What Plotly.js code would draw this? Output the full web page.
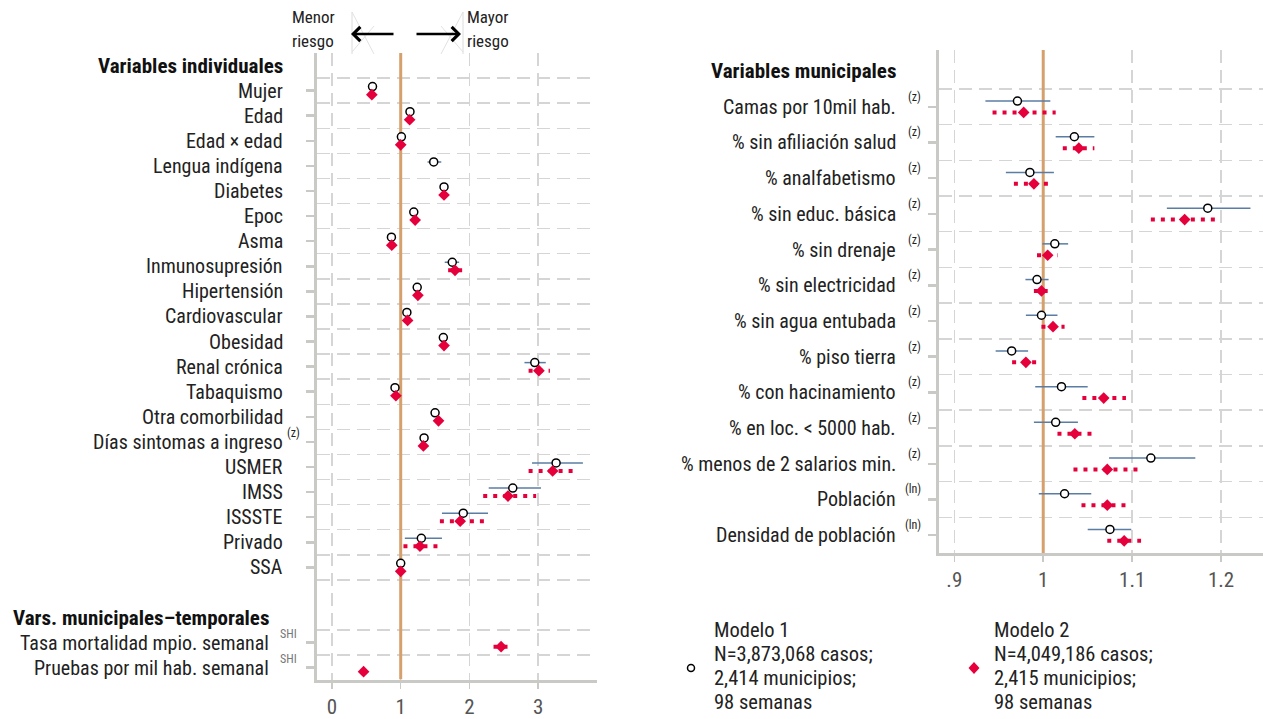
<!DOCTYPE html>
<html>
<head>
<meta charset="utf-8">
<script src="https://cdn.plot.ly/plotly-3.0.1.min.js"></script>
<style>
html,body{margin:0;padding:0;background:#fff;}
#chart{width:1263px;height:719px;}
</style>
</head>
<body>
<div id="chart"></div>
<script>
// ---------- DATA ----------
// Left panel rows (0 = first header)
const leftLabels = ["Variables individuales","Mujer","Edad","Edad × edad","Lengua indígena","Diabetes","Epoc","Asma","Inmunosupresión","Hipertensión","Cardiovascular","Obesidad","Renal crónica","Tabaquismo","Otra comorbilidad","Días sintomas a ingreso","USMER","IMSS","ISSSTE","Privado","SSA","","Vars. municipales–temporales","Tasa mortalidad mpio. semanal","Pruebas por mil hab. semanal"];
const leftSup = ["","","","","","","","","","","","","","","","(z)","","","","","","","","SHI","SHI"];
const leftHeaders = [0, 22];

const m1Est = [null,0.59,1.135,1.01,1.48,1.63,1.19,0.865,1.75,1.24,1.09,1.62,2.95,0.917,1.50,1.34,3.26,2.63,1.91,1.30,1.00,null,null,null,null];
const m1Lo  = [null,0.57,1.115,1.00,1.39,1.61,1.17,0.85,1.64,1.22,1.07,1.60,2.80,0.90,1.48,1.33,2.91,2.28,1.60,1.06,1.00,null,null,null,null];
const m1Hi  = [null,0.61,1.155,1.02,1.59,1.65,1.21,0.88,1.85,1.26,1.11,1.64,3.11,0.935,1.52,1.35,3.65,3.04,2.27,1.60,1.00,null,null,null,null];
const m2Est = [null,0.58,1.13,1.00,null,1.63,1.21,0.87,1.79,1.25,1.10,1.63,3.01,0.93,1.55,1.33,3.21,2.56,1.865,1.28,1.00,null,null,2.46,0.46];
const m2Lo  = [null,0.56,1.11,0.99,null,1.60,1.18,0.85,1.69,1.23,1.08,1.61,2.86,0.91,1.53,1.32,2.86,2.20,1.57,1.04,1.00,null,null,2.35,0.43];
const m2Hi  = [null,0.60,1.15,1.01,null,1.66,1.24,0.89,1.90,1.27,1.12,1.65,3.17,0.95,1.57,1.34,3.54,2.97,2.21,1.56,1.00,null,null,2.57,0.49];
const leftTickVals = [0,1,2,3];
const leftTickText = ["0","1","2","3"];

// Right panel rows
const rightLabels = ["Variables municipales","Camas por 10mil hab.","% sin afiliación salud","% analfabetismo","% sin educ. básica","% sin drenaje","% sin electricidad","% sin agua entubada","% piso tierra","% con hacinamiento","% en loc. < 5000 hab.","% menos de 2 salarios min.","Población","Densidad de población"];
const rightSup = ["","(z)","(z)","(z)","(z)","(z)","(z)","(z)","(z)","(z)","(z)","(z)","(ln)","(ln)"];
const rightHeaders = [0];

const r1Est = [null,0.971,1.035,0.985,1.185,1.013,0.993,0.998,0.9645,1.0205,1.014,1.121,1.024,1.075];
const r1Lo  = [null,0.935,1.014,0.958,1.139,0.999,0.980,0.9805,0.9465,0.991,0.9895,1.074,0.995,1.050];
const r1Hi  = [null,1.008,1.0575,1.012,1.233,1.028,1.006,1.016,0.983,1.050,1.039,1.171,1.054,1.099];
const r2Est = [null,0.978,1.040,0.9895,1.159,1.005,0.998,1.011,0.9805,1.068,1.0355,1.072,1.072,1.091];
const r2Lo  = [null,0.943,1.022,0.967,1.121,0.993,0.9895,0.998,0.965,1.044,1.016,1.034,1.043,1.072];
const r2Hi  = [null,1.014,1.0575,1.007,1.196,1.016,1.005,1.024,0.9925,1.093,1.056,1.110,1.096,1.110];
const rightTickVals = [0.9,1,1.1,1.2];
const rightTickText = [".9","1","1.1","1.2"];

const legend1 = ["Modelo 1","N=3,873,068 casos;","2,414 municipios;","98 semanas"];
const legend2 = ["Modelo 2","N=4,049,186 casos;","2,415 municipios;","98 semanas"];

// ---------- STYLE ----------
const W = 1263, H = 719;
const FONT = "'Roboto Condensed', Roboto, 'Liberation Sans', sans-serif";
const TXT = "#222";
const GRID = "#d5d5d5";
const AXIS = "#c9c9c5";
const BLUE = "#5a7da4";
const RED = "#e5003c";
const ORANGE = "#d6a06c";
const OFF = 0.16;
const px = p => p / W;
const py = p => 1 - p / H;
const esc = s => s.replace(/</g, "&lt;");

function ciTrace(lo, hi, shift, xa, ya, line) {
  const xs = [], ys = [];
  lo.forEach((l, i) => {
    if (l === null || hi[i] === null) return;
    xs.push(l, hi[i], null);
    ys.push(i + shift, i + shift, null);
  });
  return {x: xs, y: ys, xaxis: xa, yaxis: ya, mode: "lines", line: line, hoverinfo: "skip", showlegend: false};
}
function ptTrace(est, shift, xa, ya, marker) {
  const xs = [], ys = [];
  est.forEach((v, i) => { if (v !== null) { xs.push(v); ys.push(i + shift); } });
  return {x: xs, y: ys, xaxis: xa, yaxis: ya, mode: "markers", marker: marker, showlegend: false};
}
function refLine(xa, ya) {
  return {x: [1, 1], y: ya === "y" ? [-0.5, 24.47] : [-0.59, 13.5], xaxis: xa, yaxis: ya, mode: "lines",
    line: {color: ORANGE, width: 3}, hoverinfo: "skip", showlegend: false};
}
const circ = {symbol: "circle", size: 8, color: "#fff", line: {color: "#000", width: 1.5}};
const diam = {symbol: "diamond", size: 9, color: RED, line: {width: 0}};
const l1 = {color: BLUE, width: 1.5};
const l2 = {color: RED, width: 4, dash: "4px,6px"};

const traces = [
  refLine("x", "y"),
  refLine("x2", "y2"),
  ciTrace(m1Lo, m1Hi, -OFF, "x", "y", l1),
  ciTrace(m2Lo, m2Hi, OFF, "x", "y", l2),
  ptTrace(m1Est, -OFF, "x", "y", circ),
  ptTrace(m2Est, OFF, "x", "y", diam),
  ciTrace(r1Lo, r1Hi, -OFF, "x2", "y2", l1),
  ciTrace(r2Lo, r2Hi, OFF, "x2", "y2", l2),
  ptTrace(r1Est, -OFF, "x2", "y2", circ),
  ptTrace(r2Est, OFF, "x2", "y2", diam)
];

// tick rows & gridline midpoints
const leftRows = [], leftMids = [];
leftLabels.forEach((l, i) => { if (l !== "" && !leftHeaders.includes(i)) leftRows.push(i); });
for (let i = 0; i < leftLabels.length - 1; i++) {
  if (leftLabels[i] !== "" && leftLabels[i+1] !== "" || i === 20) leftMids.push(i + 0.5);
}
const rightRows = [], rightMids = [];
rightLabels.forEach((l, i) => { if (!rightHeaders.includes(i)) rightRows.push(i); });
for (let i = 0; i < rightLabels.length - 1; i++) rightMids.push(i + 0.5);

const gridStyle = {showgrid: true, gridcolor: GRID, griddash: "13px,7px", gridwidth: 1.5};

function xax(domain, range, tv, tt, anchor) {
  return Object.assign({domain: domain, range: range, tickmode: "array", tickvals: tv, ticktext: tt,
    zeroline: false, showline: true, linecolor: AXIS, linewidth: 3, ticks: "outside", ticklen: 6,
    tickcolor: AXIS, tickwidth: 1.5, tickfont: {size: 21, color: "#555", family: FONT}, fixedrange: true,
    anchor: anchor}, gridStyle);
}
function yax(domain, range, tv, mids, anchor) {
  return {domain: domain, range: range, tickmode: "array", tickvals: tv, showticklabels: false,
    showgrid: false, zeroline: false, showline: true, linecolor: AXIS, linewidth: 3, ticks: "outside",
    ticklen: 8, tickwidth: 2.5, tickcolor: AXIS, anchor: anchor, fixedrange: true,
    minor: Object.assign({tickmode: "array", tickvals: mids, ticks: ""}, gridStyle)};
}

const annotations = [];
const LFS = 20, HFS = 21;
leftLabels.forEach((l, i) => {
  if (l === "") return;
  const head = leftHeaders.includes(i);
  const right = (i >= 22) ? 271 : 285;
  annotations.push({xref: "paper", yref: "y", x: px(right), y: i, xanchor: "right", yanchor: "middle",
    text: head ? "<b>" + esc(l) + "</b>" : esc(l), showarrow: false,
    font: {family: FONT, size: head ? HFS : LFS, color: head ? "#111" : TXT}});
  if (leftSup[i]) {
    annotations.push({xref: "paper", yref: "y", x: px(leftSup[i] === "SHI" ? 278 : 285), y: i, yshift: 9,
      xanchor: "left", yanchor: "middle", text: leftSup[i], showarrow: false,
      font: {family: FONT, size: 12, color: leftSup[i] === "SHI" ? "#777" : TXT}});
  }
});
rightLabels.forEach((l, i) => {
  const head = rightHeaders.includes(i);
  annotations.push({xref: "paper", yref: "y2", x: px(898), y: i, xanchor: "right", yanchor: "middle",
    text: head ? "<b>" + esc(l) + "</b>" : esc(l), showarrow: false,
    font: {family: FONT, size: head ? HFS : LFS, color: head ? "#111" : TXT}});
  if (rightSup[i]) {
    annotations.push({xref: "paper", yref: "y2", x: px(rightSup[i] === "(ln)" ? 903 : 906), y: i, yshift: 10,
      xanchor: "left", yanchor: "middle", text: rightSup[i], showarrow: false,
      font: {family: FONT, size: 12, color: TXT}});
  }
});
// risk arrows
[["Menor", "riesgo", 290], ["Mayor", "riesgo", 465]].forEach(t => {
  annotations.push({xref: "paper", yref: "paper", x: px(t[2]), y: py(17), xanchor: "left", yanchor: "middle",
    text: t[0], showarrow: false, font: {family: FONT, size: 17, color: TXT}});
  annotations.push({xref: "paper", yref: "paper", x: px(t[2]), y: py(41), xanchor: "left", yanchor: "middle",
    text: t[1], showarrow: false, font: {family: FONT, size: 17, color: TXT}});
});
annotations.push({xref: "paper", yref: "paper", x: px(351), y: py(34), ax: 44, ay: 0, text: "",
  showarrow: true, arrowhead: 4, arrowsize: 1.1, arrowwidth: 2.5, arrowcolor: "#000"});
annotations.push({xref: "paper", yref: "paper", x: px(461), y: py(34), ax: -46, ay: 0, text: "",
  showarrow: true, arrowhead: 4, arrowsize: 1.1, arrowwidth: 2.5, arrowcolor: "#000"});
// legend texts
[[legend1, 712], [legend2, 992]].forEach(g => {
  g[0].forEach((t, k) => {
    annotations.push({xref: "paper", yref: "paper", x: px(g[1]), y: py(630 + 24 * k), xanchor: "left", yanchor: "middle",
      text: t, showarrow: false, font: {family: FONT, size: 20.5, color: TXT}});
  });
});

const shapes = [
  // faint construction lines near arrowheads
  {type: "line", xref: "paper", yref: "paper", x0: px(352), x1: px(352), y0: py(12), y1: py(54), line: {color: "#dcdcdc", width: 1}},
  {type: "line", xref: "paper", yref: "paper", x0: px(352), x1: px(374), y0: py(12), y1: py(54), line: {color: "#e2e2e2", width: 1}},
  {type: "line", xref: "paper", yref: "paper", x0: px(374), x1: px(352), y0: py(26), y1: py(52), line: {color: "#e2e2e2", width: 1}},
  {type: "line", xref: "paper", yref: "paper", x0: px(463), x1: px(463), y0: py(12), y1: py(54), line: {color: "#dcdcdc", width: 1}},
  {type: "line", xref: "paper", yref: "paper", x0: px(463), x1: px(441), y0: py(12), y1: py(54), line: {color: "#e2e2e2", width: 1}},
  {type: "line", xref: "paper", yref: "paper", x0: px(441), x1: px(463), y0: py(26), y1: py(52), line: {color: "#e2e2e2", width: 1}},
  // legend symbols
  {type: "circle", xref: "paper", yref: "paper", x0: px(687.5), x1: px(694.5), y0: py(671.5), y1: py(664.5),
   line: {color: "#000", width: 1.5}, fillcolor: "#fff"},
  {type: "path", xref: "paper", yref: "paper",
   path: "M " + px(968.5) + " " + py(668) + " L " + px(974) + " " + py(662) + " L " + px(979.5) + " " + py(668) +
         " L " + px(974) + " " + py(674) + " Z",
   line: {width: 0}, fillcolor: RED}
];

const layout = {
  width: W, height: H, margin: {l: 0, r: 0, t: 0, b: 0},
  paper_bgcolor: "#fff", plot_bgcolor: "#fff", showlegend: false,
  font: {family: FONT, color: TXT},
  xaxis: xax([px(317), px(597)], [-0.2174, 3.855], leftTickVals, leftTickText, "y"),
  yaxis: yax([py(679.5), py(53)], [24.47, -0.5], leftRows, leftMids, "x"),
  xaxis2: xax([px(939), 1], [0.8828, 1.2471], rightTickVals, rightTickText, "y2"),
  yaxis2: yax([py(553), py(50)], [13.5, -0.59], rightRows, rightMids, "x2"),
  annotations: annotations,
  shapes: shapes
};

Plotly.newPlot("chart", traces, layout, {staticPlot: true, displayModeBar: false});
</script>
</body>
</html>
